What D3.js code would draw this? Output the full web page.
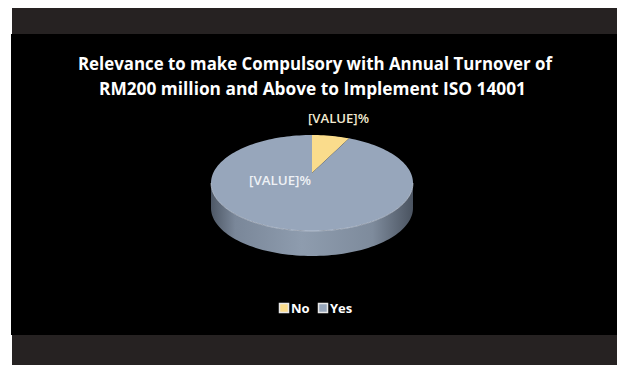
<!DOCTYPE html>
<html><head><meta charset="utf-8">
<script src="https://cdn.jsdelivr.net/npm/d3@7"></script>
<style>html,body{margin:0;padding:0;background:#fff;}svg{display:block;}</style>
</head><body>
<script>
const categories = ["No", "Yes"];
const values = [6, 94];
const labels = ["[VALUE]%", "[VALUE]%"];
const titleLines = ["Relevance to make Compulsory with Annual Turnover of", "RM200 million and Above to Implement ISO 14001"];

const W = 617, H = 365;
const svg = d3.select("body").append("svg").attr("width", W).attr("height", H);

svg.append("rect").attr("x", 12).attr("y", 8).attr("width", W - 12).attr("height", 27).attr("fill", "#262222");
svg.append("rect").attr("x", 11).attr("y", 34).attr("width", W - 11).attr("height", 301).attr("fill", "#000");
svg.append("rect").attr("x", 12).attr("y", 335).attr("width", W - 12).attr("height", 30).attr("fill", "#262222");

const defs = svg.append("defs");
const sg = defs.append("linearGradient").attr("id", "side").attr("x1", "0").attr("x2", "1").attr("y1", "0").attr("y2", "0");
[[0, "#4e5866"], [0.12, "#7a8799"], [0.45, "#8e9cae"], [0.8, "#7e8b9c"], [1, "#4a5360"]].forEach(([o, c]) =>
  sg.append("stop").attr("offset", o).attr("stop-color", c));

const color = d3.scaleOrdinal().domain(categories).range(["#fadc8c", "#97a6bb"]);

// title
const title = svg.append("g").attr("font-family", "Open Sans, sans-serif").attr("font-weight", "bold")
  .attr("font-size", 18).attr("fill", "#fff").attr("text-anchor", "middle");
title.append("text").attr("x", 315).attr("y", 70).attr("textLength", 474).attr("lengthAdjust", "spacingAndGlyphs").text(titleLines[0]);
title.append("text").attr("x", 312.5).attr("y", 95).attr("textLength", 427).attr("lengthAdjust", "spacingAndGlyphs").text(titleLines[1]);

// 3D pie
const cx = 312, cy = 183, rx = 101, ry = 48, depth = 25, apexY = 173;
const pie = d3.pie().sort(null).value(d => d)(values);
const pt = a => [cx + rx * Math.sin(a), cy - ry * Math.cos(a)];

// side (front half)
const N = 80;
let side = [];
for (let i = 0; i <= N; i++) { const a = Math.PI / 2 + Math.PI * i / N; side.push(pt(a)); }
let sidePath = "M" + side.map(p => p.join(",")).join("L");
for (let i = N; i >= 0; i--) { const p = side[i]; sidePath += "L" + p[0] + "," + (p[1] + depth); }
sidePath += "Z";
svg.append("path").attr("d", sidePath).attr("fill", "url(#side)");

// top slices
pie.forEach((s, k) => {
  const n = Math.max(4, Math.ceil((s.endAngle - s.startAngle) / (2 * Math.PI) * 200));
  let d = "M" + cx + "," + apexY;
  for (let i = 0; i <= n; i++) {
    const a = s.startAngle + (s.endAngle - s.startAngle) * i / n;
    d += "L" + pt(a).join(",");
  }
  d += "Z";
  svg.append("path").attr("d", d).attr("fill", color(categories[k]));
});
// highlight edge on front
let hl = "M" + side.map(p => p.join(",")).join("L");
svg.append("path").attr("d", hl).attr("fill", "none").attr("stroke", "#c9d2de").attr("stroke-width", 0.8).attr("opacity", 0.8);

// data labels
const lab = svg.append("g").attr("font-family", "Open Sans, sans-serif").attr("font-size", 12).attr("font-weight", 600);
lab.append("text").attr("x", 308).attr("y", 123).attr("fill", "#f3ead0").attr("textLength", 61).attr("lengthAdjust", "spacingAndGlyphs").text(labels[0]);
lab.append("text").attr("x", 249).attr("y", 185).attr("fill", "#eef1f5").attr("textLength", 62).attr("lengthAdjust", "spacingAndGlyphs").text(labels[1]);

// legend
const leg = svg.append("g").attr("font-family", "Open Sans, sans-serif").attr("font-size", 13).attr("font-weight", "bold").attr("fill", "#fff");
const legX = [279, 318];
categories.forEach((c, i) => {
  leg.append("rect").attr("x", legX[i] + 0.5).attr("y", 303.5).attr("width", 9).attr("height", 9)
    .attr("fill", color(c)).attr("stroke", "#e8e8e8").attr("stroke-width", 1.5);
  leg.append("text").attr("x", legX[i] + 12).attr("y", 313).text(c);
});
</script>
</body></html>
